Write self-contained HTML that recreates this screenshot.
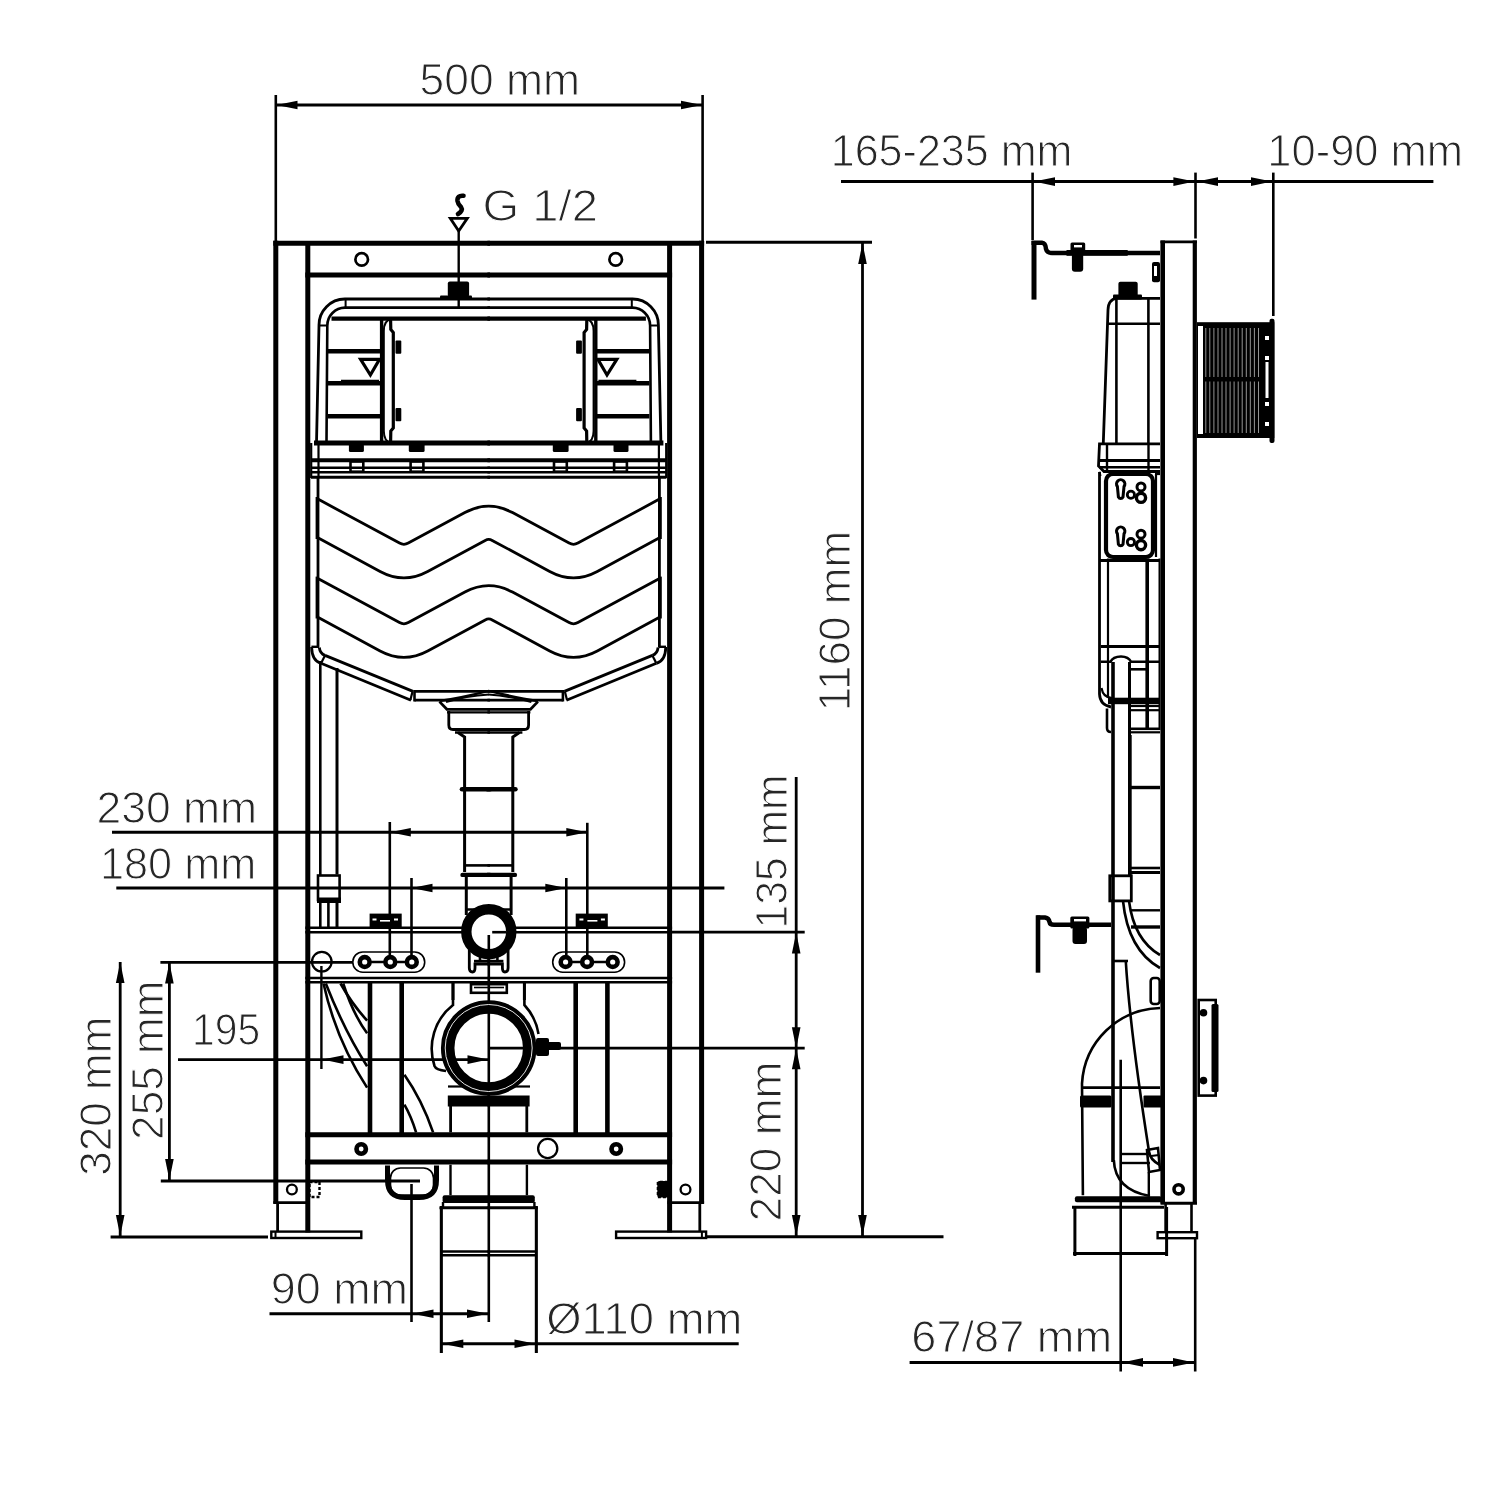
<!DOCTYPE html>
<html><head><meta charset="utf-8"><style>
html,body{margin:0;padding:0;background:#fff;width:1504px;height:1504px;overflow:hidden}
svg{display:block}
text{font-family:"Liberation Sans",sans-serif;fill:#262626;stroke:#fff;stroke-width:1.1px;paint-order:normal}
</style></head><body>
<svg width="1504" height="1504" viewBox="0 0 1504 1504" stroke="#000" fill="none" style="will-change:transform">
<line x1="275.8" y1="95.0" x2="275.8" y2="241.0" stroke-width="2.6" stroke-linecap="butt"/>
<line x1="702.6" y1="95.0" x2="702.6" y2="241.0" stroke-width="2.6" stroke-linecap="butt"/>
<line x1="275.8" y1="105.0" x2="702.6" y2="105.0" stroke-width="3" stroke-linecap="butt"/>
<polygon points="276.5,105.0 297.5,100.7 297.5,109.3" stroke="none" fill="#000"/>
<polygon points="702.0,105.0 681.0,109.3 681.0,100.7" stroke="none" fill="#000"/>
<text x="419.5" y="95" font-size="44" textLength="160.5" lengthAdjust="spacingAndGlyphs">500 mm</text>
<line x1="706.0" y1="242.3" x2="872.0" y2="242.3" stroke-width="3" stroke-linecap="butt"/>
<line x1="862.5" y1="243.0" x2="862.5" y2="1236.0" stroke-width="2.8" stroke-linecap="butt"/>
<polygon points="862.5,243.0 866.8,264.0 858.2,264.0" stroke="none" fill="#000"/>
<polygon points="862.5,1236.0 858.2,1215.0 866.8,1215.0" stroke="none" fill="#000"/>
<text transform="translate(849.9,708.8) rotate(-90)" x="-2.5" y="0" font-size="44" textLength="180.5" lengthAdjust="spacingAndGlyphs">1160 mm</text>
<line x1="707.0" y1="1236.8" x2="943.5" y2="1236.8" stroke-width="3" stroke-linecap="butt"/>
<line x1="796.2" y1="777.0" x2="796.2" y2="1236.0" stroke-width="2.8" stroke-linecap="butt"/>
<polygon points="796.2,932.5 800.5,953.5 791.9,953.5" stroke="none" fill="#000"/>
<polygon points="796.2,1048.2 791.9,1027.2 800.5,1027.2" stroke="none" fill="#000"/>
<polygon points="796.2,1048.2 800.5,1069.2 791.9,1069.2" stroke="none" fill="#000"/>
<polygon points="796.2,1236.0 791.9,1215.0 800.5,1215.0" stroke="none" fill="#000"/>
<line x1="672.0" y1="932.2" x2="804.7" y2="932.2" stroke-width="2.8" stroke-linecap="butt"/>
<line x1="490.0" y1="1048.2" x2="804.7" y2="1048.2" stroke-width="2.8" stroke-linecap="butt"/>
<text transform="translate(786.6,926) rotate(-90)" x="-2.5" y="0" font-size="44" textLength="154.0" lengthAdjust="spacingAndGlyphs">135 mm</text>
<text transform="translate(781.2,1218.9) rotate(-90)" x="-2.5" y="0" font-size="44" textLength="159.9" lengthAdjust="spacingAndGlyphs">220 mm</text>
<line x1="112.0" y1="832.2" x2="587.3" y2="832.2" stroke-width="3" stroke-linecap="butt"/>
<polygon points="389.8,832.2 410.8,827.9 410.8,836.5" stroke="none" fill="#000"/>
<polygon points="587.3,832.2 566.3,836.5 566.3,827.9" stroke="none" fill="#000"/>
<line x1="389.8" y1="822.0" x2="389.8" y2="955.0" stroke-width="2.6" stroke-linecap="butt"/>
<line x1="587.3" y1="822.8" x2="587.3" y2="955.5" stroke-width="2.6" stroke-linecap="butt"/>
<text x="96.5" y="822.7" font-size="44" textLength="160.6" lengthAdjust="spacingAndGlyphs">230 mm</text>
<line x1="116.3" y1="888.0" x2="724.4" y2="888.0" stroke-width="3" stroke-linecap="butt"/>
<polygon points="411.5,888.0 432.5,883.7 432.5,892.3" stroke="none" fill="#000"/>
<polygon points="566.3,888.0 545.3,892.3 545.3,883.7" stroke="none" fill="#000"/>
<line x1="411.5" y1="878.0" x2="411.5" y2="955.0" stroke-width="2.6" stroke-linecap="butt"/>
<line x1="566.3" y1="878.0" x2="566.3" y2="955.0" stroke-width="2.6" stroke-linecap="butt"/>
<text x="100.0" y="878.9" font-size="44" textLength="156.2" lengthAdjust="spacingAndGlyphs">180 mm</text>
<line x1="160.4" y1="962.3" x2="352.8" y2="962.3" stroke-width="2.8" stroke-linecap="butt"/>
<line x1="120.2" y1="962.0" x2="120.2" y2="1236.0" stroke-width="2.8" stroke-linecap="butt"/>
<polygon points="120.2,962.0 124.5,983.0 115.9,983.0" stroke="none" fill="#000"/>
<polygon points="120.2,1236.0 115.9,1215.0 124.5,1215.0" stroke="none" fill="#000"/>
<line x1="169.4" y1="962.5" x2="169.4" y2="1180.0" stroke-width="2.8" stroke-linecap="butt"/>
<polygon points="169.4,962.5 173.7,983.5 165.1,983.5" stroke="none" fill="#000"/>
<polygon points="169.4,1180.0 165.1,1159.0 173.7,1159.0" stroke="none" fill="#000"/>
<line x1="160.8" y1="1181.0" x2="420.0" y2="1181.0" stroke-width="2.8" stroke-linecap="butt"/>
<line x1="110.6" y1="1237.0" x2="268.0" y2="1237.0" stroke-width="2.8" stroke-linecap="butt"/>
<text transform="translate(111.3,1173.3) rotate(-90)" x="-2.5" y="0" font-size="44" textLength="159.4" lengthAdjust="spacingAndGlyphs">320 mm</text>
<text transform="translate(162.5,1137.4) rotate(-90)" x="-2.5" y="0" font-size="44" textLength="159.4" lengthAdjust="spacingAndGlyphs">255 mm</text>
<line x1="178.0" y1="1059.6" x2="488.5" y2="1059.6" stroke-width="2.8" stroke-linecap="butt"/>
<polygon points="322.5,1059.6 343.5,1055.3 343.5,1063.9" stroke="none" fill="#000"/>
<polygon points="488.5,1059.6 467.5,1063.9 467.5,1055.3" stroke="none" fill="#000"/>
<line x1="321.4" y1="966.0" x2="321.4" y2="1069.0" stroke-width="2.4" stroke-linecap="butt"/>
<text x="192.0" y="1045.3" font-size="44" textLength="68.1" lengthAdjust="spacingAndGlyphs">195</text>
<line x1="411.5" y1="1184.0" x2="411.5" y2="1322.0" stroke-width="2.6" stroke-linecap="butt"/>
<line x1="269.5" y1="1313.8" x2="488.8" y2="1313.8" stroke-width="3" stroke-linecap="butt"/>
<polygon points="412.5,1313.8 433.5,1309.5 433.5,1318.1" stroke="none" fill="#000"/>
<polygon points="488.0,1313.8 467.0,1318.1 467.0,1309.5" stroke="none" fill="#000"/>
<text x="270.7" y="1304.3" font-size="44" textLength="137.3" lengthAdjust="spacingAndGlyphs">90 mm</text>
<line x1="488.8" y1="935.0" x2="488.8" y2="1322.0" stroke-width="2.6" stroke-linecap="butt"/>
<line x1="441.4" y1="1206.0" x2="441.4" y2="1353.0" stroke-width="2.6" stroke-linecap="butt"/>
<line x1="536.4" y1="1206.0" x2="536.4" y2="1353.0" stroke-width="2.6" stroke-linecap="butt"/>
<line x1="441.5" y1="1343.8" x2="738.7" y2="1343.8" stroke-width="3" stroke-linecap="butt"/>
<polygon points="442.3,1343.8 463.3,1339.5 463.3,1348.1" stroke="none" fill="#000"/>
<polygon points="535.5,1343.8 514.5,1348.1 514.5,1339.5" stroke="none" fill="#000"/>
<text x="546.3" y="1334.2" font-size="44" textLength="196.0" lengthAdjust="spacingAndGlyphs">Ø110 mm</text>
<text x="482.5" y="221" font-size="44" textLength="115.5" lengthAdjust="spacingAndGlyphs">G 1/2</text>
<line x1="275.8" y1="240.8" x2="275.8" y2="1203.5" stroke-width="5" stroke-linecap="butt"/>
<line x1="307.8" y1="241.0" x2="307.8" y2="1232.5" stroke-width="5" stroke-linecap="butt"/>
<line x1="273.3" y1="243.3" x2="490.0" y2="243.3" stroke-width="5" stroke-linecap="butt"/>
<line x1="305.3" y1="275.0" x2="490.0" y2="275.0" stroke-width="5" stroke-linecap="butt"/>
<circle cx="361.7" cy="259.4" r="6.3" stroke-width="2.7" fill="none"/>
<line x1="305.3" y1="927.8" x2="490.0" y2="927.8" stroke-width="2.6" stroke-linecap="butt"/>
<line x1="305.3" y1="932.2" x2="490.0" y2="932.2" stroke-width="2.6" stroke-linecap="butt"/>
<line x1="305.3" y1="978.0" x2="490.0" y2="978.0" stroke-width="2.6" stroke-linecap="butt"/>
<line x1="305.3" y1="982.3" x2="490.0" y2="982.3" stroke-width="2.6" stroke-linecap="butt"/>
<line x1="305.3" y1="1134.8" x2="490.0" y2="1134.8" stroke-width="5" stroke-linecap="butt"/>
<line x1="305.3" y1="1162.1" x2="490.0" y2="1162.1" stroke-width="5" stroke-linecap="butt"/>
<circle cx="361.2" cy="1149.0" r="4.7" stroke-width="4.6" fill="none"/>
<line x1="273.3" y1="1202.7" x2="310.0" y2="1202.7" stroke-width="2.8" stroke-linecap="butt"/>
<line x1="277.6" y1="1203.0" x2="277.6" y2="1232.0" stroke-width="2.8" stroke-linecap="butt"/>
<rect x="271.3" y="1231.6" width="90.0" height="6.4" rx="0" stroke-width="2.4" fill="none"/>
<line x1="275.5" y1="1231.6" x2="275.5" y2="1238.0" stroke-width="2" stroke-linecap="butt"/>
<circle cx="291.9" cy="1189.5" r="4.9" stroke-width="2.3" fill="none"/>
<line x1="370.0" y1="982.0" x2="370.0" y2="1134.0" stroke-width="4.6" stroke-linecap="butt"/>
<line x1="401.7" y1="982.0" x2="401.7" y2="1134.0" stroke-width="4.6" stroke-linecap="butt"/>
<line x1="453.0" y1="982.0" x2="453.0" y2="1000.0" stroke-width="3" stroke-linecap="butt"/>
<g transform="translate(977.4,0) scale(-1,1)">
<line x1="275.8" y1="240.8" x2="275.8" y2="1203.5" stroke-width="5" stroke-linecap="butt"/>
<line x1="307.8" y1="241.0" x2="307.8" y2="1232.5" stroke-width="5" stroke-linecap="butt"/>
<line x1="273.3" y1="243.3" x2="490.0" y2="243.3" stroke-width="5" stroke-linecap="butt"/>
<line x1="305.3" y1="275.0" x2="490.0" y2="275.0" stroke-width="5" stroke-linecap="butt"/>
<circle cx="361.7" cy="259.4" r="6.3" stroke-width="2.7" fill="none"/>
<line x1="305.3" y1="927.8" x2="490.0" y2="927.8" stroke-width="2.6" stroke-linecap="butt"/>
<line x1="305.3" y1="932.2" x2="490.0" y2="932.2" stroke-width="2.6" stroke-linecap="butt"/>
<line x1="305.3" y1="978.0" x2="490.0" y2="978.0" stroke-width="2.6" stroke-linecap="butt"/>
<line x1="305.3" y1="982.3" x2="490.0" y2="982.3" stroke-width="2.6" stroke-linecap="butt"/>
<line x1="305.3" y1="1134.8" x2="490.0" y2="1134.8" stroke-width="5" stroke-linecap="butt"/>
<line x1="305.3" y1="1162.1" x2="490.0" y2="1162.1" stroke-width="5" stroke-linecap="butt"/>
<circle cx="361.2" cy="1149.0" r="4.7" stroke-width="4.6" fill="none"/>
<line x1="273.3" y1="1202.7" x2="310.0" y2="1202.7" stroke-width="2.8" stroke-linecap="butt"/>
<line x1="277.6" y1="1203.0" x2="277.6" y2="1232.0" stroke-width="2.8" stroke-linecap="butt"/>
<rect x="271.3" y="1231.6" width="90.0" height="6.4" rx="0" stroke-width="2.4" fill="none"/>
<line x1="275.5" y1="1231.6" x2="275.5" y2="1238.0" stroke-width="2" stroke-linecap="butt"/>
<circle cx="291.9" cy="1189.5" r="4.9" stroke-width="2.3" fill="none"/>
<line x1="370.0" y1="982.0" x2="370.0" y2="1134.0" stroke-width="4.6" stroke-linecap="butt"/>
<line x1="401.7" y1="982.0" x2="401.7" y2="1134.0" stroke-width="4.6" stroke-linecap="butt"/>
<line x1="453.0" y1="982.0" x2="453.0" y2="1000.0" stroke-width="3" stroke-linecap="butt"/>
</g>
<circle cx="547.7" cy="1148.5" r="9.6" stroke-width="2.3" fill="none"/>
<path d="M490,299 L344.8,299 A26,26 0 0 0 319,325 L316.5,443" stroke-width="2.8" fill="none" />
<path d="M490,307.6 L345,307.6 A18,18 0 0 0 327.3,325.7 L326.5,443" stroke-width="2.6" fill="none" />
<line x1="345.6" y1="299.0" x2="345.6" y2="307.6" stroke-width="2" stroke-linecap="butt"/>
<line x1="319.0" y1="325.5" x2="327.3" y2="325.5" stroke-width="2" stroke-linecap="butt"/>
<line x1="331.5" y1="318.6" x2="490.0" y2="318.6" stroke-width="4.2" stroke-linecap="butt"/>
<line x1="328.0" y1="351.3" x2="380.5" y2="351.3" stroke-width="4.6" stroke-linecap="butt"/>
<line x1="328.0" y1="383.3" x2="380.5" y2="383.3" stroke-width="4.6" stroke-linecap="butt"/>
<line x1="328.0" y1="416.2" x2="380.5" y2="416.2" stroke-width="4.6" stroke-linecap="butt"/>
<line x1="341.0" y1="381.2" x2="379.0" y2="381.2" stroke-width="3" stroke-linecap="butt"/>
<path d="M360.6,359.3 L379.5,359.3 L370.4,375 Z" stroke-width="3.2" fill="none" />
<line x1="381.6" y1="320.0" x2="381.6" y2="443.0" stroke-width="3.4" stroke-linecap="butt"/>
<path d="M391,319.5 Q384,320 383.8,331 L383.8,431 Q384,442 391,442.5" stroke-width="2.0" fill="none" />
<path d="M390.6,320 L390.8,329.5 L393.3,332.5 L393.3,428 L390.8,431 L390.6,442" stroke-width="3.2" fill="none" />
<rect x="395.5" y="340.5" width="5.8" height="13.3" rx="1" stroke="none" fill="#000"/>
<rect x="395.5" y="407.9" width="5.8" height="13.3" rx="1" stroke="none" fill="#000"/>
<line x1="314.0" y1="443.0" x2="490.0" y2="443.0" stroke-width="5" stroke-linecap="butt"/>
<rect x="348.9" y="444.0" width="15.0" height="7.9" rx="1.5" stroke="none" fill="#000"/>
<rect x="408.8" y="444.0" width="15.8" height="7.9" rx="1.5" stroke="none" fill="#000"/>
<line x1="311.0" y1="460.2" x2="490.0" y2="460.2" stroke-width="4" stroke-linecap="butt"/>
<rect x="350.5" y="461.5" width="12.8" height="10.2" rx="0" stroke-width="2.6" fill="none"/>
<rect x="410.6" y="461.5" width="12.8" height="10.2" rx="0" stroke-width="2.6" fill="none"/>
<line x1="311.0" y1="467.7" x2="490.0" y2="467.7" stroke-width="2.4" stroke-linecap="butt"/>
<line x1="311.0" y1="472.3" x2="490.0" y2="472.3" stroke-width="2.4" stroke-linecap="butt"/>
<line x1="311.0" y1="477.2" x2="490.0" y2="477.2" stroke-width="3" stroke-linecap="butt"/>
<line x1="311.2" y1="443.0" x2="311.2" y2="478.0" stroke-width="2.2" stroke-linecap="butt"/>
<line x1="318.5" y1="443.0" x2="318.5" y2="478.0" stroke-width="2.2" stroke-linecap="butt"/>
<line x1="318.0" y1="478.0" x2="318.0" y2="647.0" stroke-width="2.8" stroke-linecap="butt"/>
<path d="M311.4,646.8 L319,646.8" stroke-width="2.4" fill="none" />
<path d="M311.6,647 Q312,661 321,663.3" stroke-width="2.8" fill="none" />
<path d="M319.3,647.5 Q320,653.5 325,655.4" stroke-width="2.8" fill="none" />
<line x1="325.0" y1="655.4" x2="413.0" y2="691.4" stroke-width="2.8" stroke-linecap="butt"/>
<line x1="321.0" y1="663.3" x2="411.0" y2="700.3" stroke-width="2.8" stroke-linecap="butt"/>
<line x1="325.0" y1="655.4" x2="321.2" y2="663.0" stroke-width="2.2" stroke-linecap="butt"/>
<line x1="412.6" y1="691.2" x2="410.4" y2="700.0" stroke-width="2.2" stroke-linecap="butt"/>
<line x1="414.5" y1="690.0" x2="414.5" y2="701.5" stroke-width="2.6" stroke-linecap="butt"/>
<line x1="414.5" y1="691.4" x2="490.0" y2="691.4" stroke-width="2.8" stroke-linecap="butt"/>
<line x1="414.5" y1="700.2" x2="490.0" y2="700.2" stroke-width="2.8" stroke-linecap="butt"/>
<path d="M439.5,701 Q460,698 489,690.9" stroke-width="2.5" fill="none" />
<path d="M446,702 Q466,696 489,694.5" stroke-width="2.2" fill="none" />
<line x1="439.5" y1="701.6" x2="447.6" y2="710.0" stroke-width="2.8" stroke-linecap="butt"/>
<line x1="447.0" y1="709.4" x2="490.0" y2="709.4" stroke-width="2.8" stroke-linecap="butt"/>
<line x1="447.0" y1="712.4" x2="490.0" y2="712.4" stroke-width="2.4" stroke-linecap="butt"/>
<path d="M448.8,711 L448.8,725 Q448.8,729.5 453,729.5 L490,729.5" stroke-width="2.8" fill="none" />
<line x1="455.0" y1="732.5" x2="490.0" y2="732.5" stroke-width="2.4" stroke-linecap="butt"/>
<path d="M458,732.5 L464.6,737 L464.6,872" stroke-width="3" fill="none" />
<line x1="462.0" y1="789.2" x2="490.0" y2="789.2" stroke-width="4.6" stroke-linecap="round"/>
<line x1="464.2" y1="865.4" x2="490.0" y2="865.4" stroke-width="2.6" stroke-linecap="butt"/>
<line x1="462.5" y1="874.9" x2="490.0" y2="874.9" stroke-width="4.4" stroke-linecap="round"/>
<line x1="466.3" y1="876.0" x2="466.3" y2="915.0" stroke-width="3" stroke-linecap="butt"/>
<g transform="translate(977.4,0) scale(-1,1)">
<path d="M490,299 L344.8,299 A26,26 0 0 0 319,325 L316.5,443" stroke-width="2.8" fill="none" />
<path d="M490,307.6 L345,307.6 A18,18 0 0 0 327.3,325.7 L326.5,443" stroke-width="2.6" fill="none" />
<line x1="345.6" y1="299.0" x2="345.6" y2="307.6" stroke-width="2" stroke-linecap="butt"/>
<line x1="319.0" y1="325.5" x2="327.3" y2="325.5" stroke-width="2" stroke-linecap="butt"/>
<line x1="331.5" y1="318.6" x2="490.0" y2="318.6" stroke-width="4.2" stroke-linecap="butt"/>
<line x1="328.0" y1="351.3" x2="380.5" y2="351.3" stroke-width="4.6" stroke-linecap="butt"/>
<line x1="328.0" y1="383.3" x2="380.5" y2="383.3" stroke-width="4.6" stroke-linecap="butt"/>
<line x1="328.0" y1="416.2" x2="380.5" y2="416.2" stroke-width="4.6" stroke-linecap="butt"/>
<line x1="341.0" y1="381.2" x2="379.0" y2="381.2" stroke-width="3" stroke-linecap="butt"/>
<path d="M360.6,359.3 L379.5,359.3 L370.4,375 Z" stroke-width="3.2" fill="none" />
<line x1="381.6" y1="320.0" x2="381.6" y2="443.0" stroke-width="3.4" stroke-linecap="butt"/>
<path d="M391,319.5 Q384,320 383.8,331 L383.8,431 Q384,442 391,442.5" stroke-width="2.0" fill="none" />
<path d="M390.6,320 L390.8,329.5 L393.3,332.5 L393.3,428 L390.8,431 L390.6,442" stroke-width="3.2" fill="none" />
<rect x="395.5" y="340.5" width="5.8" height="13.3" rx="1" stroke="none" fill="#000"/>
<rect x="395.5" y="407.9" width="5.8" height="13.3" rx="1" stroke="none" fill="#000"/>
<line x1="314.0" y1="443.0" x2="490.0" y2="443.0" stroke-width="5" stroke-linecap="butt"/>
<rect x="348.9" y="444.0" width="15.0" height="7.9" rx="1.5" stroke="none" fill="#000"/>
<rect x="408.8" y="444.0" width="15.8" height="7.9" rx="1.5" stroke="none" fill="#000"/>
<line x1="311.0" y1="460.2" x2="490.0" y2="460.2" stroke-width="4" stroke-linecap="butt"/>
<rect x="350.5" y="461.5" width="12.8" height="10.2" rx="0" stroke-width="2.6" fill="none"/>
<rect x="410.6" y="461.5" width="12.8" height="10.2" rx="0" stroke-width="2.6" fill="none"/>
<line x1="311.0" y1="467.7" x2="490.0" y2="467.7" stroke-width="2.4" stroke-linecap="butt"/>
<line x1="311.0" y1="472.3" x2="490.0" y2="472.3" stroke-width="2.4" stroke-linecap="butt"/>
<line x1="311.0" y1="477.2" x2="490.0" y2="477.2" stroke-width="3" stroke-linecap="butt"/>
<line x1="311.2" y1="443.0" x2="311.2" y2="478.0" stroke-width="2.2" stroke-linecap="butt"/>
<line x1="318.5" y1="443.0" x2="318.5" y2="478.0" stroke-width="2.2" stroke-linecap="butt"/>
<line x1="318.0" y1="478.0" x2="318.0" y2="647.0" stroke-width="2.8" stroke-linecap="butt"/>
<path d="M311.4,646.8 L319,646.8" stroke-width="2.4" fill="none" />
<path d="M311.6,647 Q312,661 321,663.3" stroke-width="2.8" fill="none" />
<path d="M319.3,647.5 Q320,653.5 325,655.4" stroke-width="2.8" fill="none" />
<line x1="325.0" y1="655.4" x2="413.0" y2="691.4" stroke-width="2.8" stroke-linecap="butt"/>
<line x1="321.0" y1="663.3" x2="411.0" y2="700.3" stroke-width="2.8" stroke-linecap="butt"/>
<line x1="325.0" y1="655.4" x2="321.2" y2="663.0" stroke-width="2.2" stroke-linecap="butt"/>
<line x1="412.6" y1="691.2" x2="410.4" y2="700.0" stroke-width="2.2" stroke-linecap="butt"/>
<line x1="414.5" y1="690.0" x2="414.5" y2="701.5" stroke-width="2.6" stroke-linecap="butt"/>
<line x1="414.5" y1="691.4" x2="490.0" y2="691.4" stroke-width="2.8" stroke-linecap="butt"/>
<line x1="414.5" y1="700.2" x2="490.0" y2="700.2" stroke-width="2.8" stroke-linecap="butt"/>
<path d="M439.5,701 Q460,698 489,690.9" stroke-width="2.5" fill="none" />
<path d="M446,702 Q466,696 489,694.5" stroke-width="2.2" fill="none" />
<line x1="439.5" y1="701.6" x2="447.6" y2="710.0" stroke-width="2.8" stroke-linecap="butt"/>
<line x1="447.0" y1="709.4" x2="490.0" y2="709.4" stroke-width="2.8" stroke-linecap="butt"/>
<line x1="447.0" y1="712.4" x2="490.0" y2="712.4" stroke-width="2.4" stroke-linecap="butt"/>
<path d="M448.8,711 L448.8,725 Q448.8,729.5 453,729.5 L490,729.5" stroke-width="2.8" fill="none" />
<line x1="455.0" y1="732.5" x2="490.0" y2="732.5" stroke-width="2.4" stroke-linecap="butt"/>
<path d="M458,732.5 L464.6,737 L464.6,872" stroke-width="3" fill="none" />
<line x1="462.0" y1="789.2" x2="490.0" y2="789.2" stroke-width="4.6" stroke-linecap="round"/>
<line x1="464.2" y1="865.4" x2="490.0" y2="865.4" stroke-width="2.6" stroke-linecap="butt"/>
<line x1="462.5" y1="874.9" x2="490.0" y2="874.9" stroke-width="4.4" stroke-linecap="round"/>
<line x1="466.3" y1="876.0" x2="466.3" y2="915.0" stroke-width="3" stroke-linecap="butt"/>
</g>
<path d="M317.9,499.1 L399.5,543.1 Q403.9,545.5 408.3,543.1 L464.9,512.6 Q488.7,499.8 512.5,512.6 L569.1,543.1 Q573.5,545.5 577.9,543.1 L659.5,499.1" stroke-width="2.8" fill="none" />
<path d="M317.9,537.8 L380.1,571.4 Q403.9,584.2 427.7,571.4 L485.2,540.4 Q488.7,538.5 492.2,540.4 L549.7,571.4 Q573.5,584.2 597.3,571.4 L659.5,537.8" stroke-width="2.8" fill="none" />
<path d="M317.9,578.6 L399.5,622.6 Q403.9,625.0 408.3,622.6 L464.9,592.1 Q488.7,579.3 512.5,592.1 L569.1,622.6 Q573.5,625.0 577.9,622.6 L659.5,578.6" stroke-width="2.8" fill="none" />
<path d="M317.9,617.3 L380.1,650.9 Q403.9,663.7 427.7,650.9 L485.2,619.9 Q488.7,618.0 492.2,619.9 L549.7,650.9 Q573.5,663.7 597.3,650.9 L659.5,617.3" stroke-width="2.8" fill="none" />
<line x1="317.2" y1="497.0" x2="317.2" y2="539.0" stroke-width="3.2" stroke-linecap="butt"/>
<line x1="660.2" y1="497.0" x2="660.2" y2="539.0" stroke-width="3.2" stroke-linecap="butt"/>
<line x1="317.2" y1="576.6" x2="317.2" y2="618.5" stroke-width="3.2" stroke-linecap="butt"/>
<line x1="660.2" y1="576.6" x2="660.2" y2="618.5" stroke-width="3.2" stroke-linecap="butt"/>
<rect x="352.8" y="952.0" width="71.9" height="20.2" rx="10" stroke-width="1.6" fill="none"/>
<line x1="369.0" y1="962.0" x2="407.0" y2="962.0" stroke-width="2.6" stroke-linecap="butt"/>
<circle cx="364.7" cy="962.0" r="4.9" stroke-width="4.6" fill="#fff"/>
<circle cx="390.3" cy="962.0" r="4.9" stroke-width="4.6" fill="#fff"/>
<circle cx="411.8" cy="962.0" r="4.9" stroke-width="4.6" fill="#fff"/>
<rect x="369.6" y="913.6" width="32.1" height="15.3" rx="0" stroke="none" fill="#000"/>
<rect x="372.5" y="918.5" width="4" height="2" fill="#fff" stroke="none"/><rect x="380" y="920" width="10" height="1.6" fill="#fff" stroke="none"/><rect x="394" y="918.5" width="4" height="2" fill="#fff" stroke="none"/>
<path d="M469.3,950 L469.3,968 Q469.3,972 472.5,972 Q475,972 475,968 L475,964 L490,964" stroke-width="2.8" fill="none" />
<line x1="474.0" y1="961.2" x2="490.0" y2="961.2" stroke-width="2.8" stroke-linecap="butt"/>
<line x1="480.0" y1="955.0" x2="480.0" y2="961.0" stroke-width="2.6" stroke-linecap="butt"/>
<rect x="447.8" y="1095.5" width="42.2" height="11.0" rx="0" stroke="none" fill="#000"/>
<line x1="450.6" y1="1106.0" x2="450.6" y2="1132.4" stroke-width="2.8" stroke-linecap="butt"/>
<line x1="450.5" y1="1164.7" x2="450.5" y2="1195.2" stroke-width="2.4" stroke-linecap="butt"/>
<rect x="442.6" y="1195.2" width="47.4" height="7.9" rx="2" stroke="none" fill="#000"/>
<line x1="439.5" y1="1207.7" x2="490.0" y2="1207.7" stroke-width="3" stroke-linecap="butt"/>
<line x1="443.0" y1="1202.0" x2="443.0" y2="1207.0" stroke-width="2.4" stroke-linecap="butt"/>
<line x1="441.2" y1="1207.0" x2="441.2" y2="1353.0" stroke-width="2.8" stroke-linecap="butt"/>
<line x1="441.0" y1="1251.5" x2="490.0" y2="1251.5" stroke-width="2.4" stroke-linecap="butt"/>
<line x1="441.0" y1="1255.3" x2="490.0" y2="1255.3" stroke-width="2.4" stroke-linecap="butt"/>
<rect x="309.5" y="1182" width="10" height="15" fill="none" stroke-width="2.4" stroke-dasharray="3 2"/>
<g transform="translate(977.4,0) scale(-1,1)">
<rect x="352.8" y="952.0" width="71.9" height="20.2" rx="10" stroke-width="1.6" fill="none"/>
<line x1="369.0" y1="962.0" x2="407.0" y2="962.0" stroke-width="2.6" stroke-linecap="butt"/>
<circle cx="364.7" cy="962.0" r="4.9" stroke-width="4.6" fill="#fff"/>
<circle cx="390.3" cy="962.0" r="4.9" stroke-width="4.6" fill="#fff"/>
<circle cx="411.8" cy="962.0" r="4.9" stroke-width="4.6" fill="#fff"/>
<rect x="369.6" y="913.6" width="32.1" height="15.3" rx="0" stroke="none" fill="#000"/>
<rect x="372.5" y="918.5" width="4" height="2" fill="#fff" stroke="none"/><rect x="380" y="920" width="10" height="1.6" fill="#fff" stroke="none"/><rect x="394" y="918.5" width="4" height="2" fill="#fff" stroke="none"/>
<path d="M469.3,950 L469.3,968 Q469.3,972 472.5,972 Q475,972 475,968 L475,964 L490,964" stroke-width="2.8" fill="none" />
<line x1="474.0" y1="961.2" x2="490.0" y2="961.2" stroke-width="2.8" stroke-linecap="butt"/>
<line x1="480.0" y1="955.0" x2="480.0" y2="961.0" stroke-width="2.6" stroke-linecap="butt"/>
<rect x="447.8" y="1095.5" width="42.2" height="11.0" rx="0" stroke="none" fill="#000"/>
<line x1="450.6" y1="1106.0" x2="450.6" y2="1132.4" stroke-width="2.8" stroke-linecap="butt"/>
<line x1="450.5" y1="1164.7" x2="450.5" y2="1195.2" stroke-width="2.4" stroke-linecap="butt"/>
<rect x="442.6" y="1195.2" width="47.4" height="7.9" rx="2" stroke="none" fill="#000"/>
<line x1="439.5" y1="1207.7" x2="490.0" y2="1207.7" stroke-width="3" stroke-linecap="butt"/>
<line x1="443.0" y1="1202.0" x2="443.0" y2="1207.0" stroke-width="2.4" stroke-linecap="butt"/>
<line x1="441.2" y1="1207.0" x2="441.2" y2="1353.0" stroke-width="2.8" stroke-linecap="butt"/>
<line x1="441.0" y1="1251.5" x2="490.0" y2="1251.5" stroke-width="2.4" stroke-linecap="butt"/>
<line x1="441.0" y1="1255.3" x2="490.0" y2="1255.3" stroke-width="2.4" stroke-linecap="butt"/>
<rect x="309.5" y="1182" width="10" height="15" fill="none" stroke-width="2.4" stroke-dasharray="3 2"/>
</g>
<line x1="320.3" y1="661.0" x2="320.3" y2="875.0" stroke-width="2.6" stroke-linecap="butt"/>
<line x1="337.0" y1="668.0" x2="337.0" y2="874.5" stroke-width="3" stroke-linecap="butt"/>
<rect x="318.0" y="875.5" width="21.6" height="24.5" rx="0" stroke-width="2.6" fill="none"/>
<rect x="317.0" y="897.5" width="24.0" height="5.5" rx="0" stroke="none" fill="#000"/>
<line x1="320.3" y1="903.0" x2="320.3" y2="927.0" stroke-width="2.6" stroke-linecap="butt"/>
<line x1="328.4" y1="903.0" x2="328.4" y2="927.0" stroke-width="2.6" stroke-linecap="butt"/>
<line x1="337.0" y1="903.0" x2="337.0" y2="927.0" stroke-width="3" stroke-linecap="butt"/>
<path d="M323.5,983.5 Q336,1040 367.1,1087.6" stroke-width="2.6" fill="none" />
<path d="M325.8,983.5 Q344,1030 367.1,1066.3" stroke-width="2.6" fill="none" />
<path d="M340.5,983.5 Q352,1004 367.1,1020.6" stroke-width="2.6" fill="none" />
<path d="M343.2,983.5 Q353,1014 367.1,1033.3" stroke-width="2.6" fill="none" />
<path d="M404.4,1074.8 Q422,1100 433.1,1132.3" stroke-width="2.6" fill="none" />
<path d="M404.4,1104.6 Q411,1116 416.1,1132.3" stroke-width="2.6" fill="none" />
<circle cx="321.8" cy="961.7" r="9.8" stroke-width="2.2" fill="none"/>
<circle cx="488.8" cy="931.7" r="22.5" stroke-width="10.4" fill="#fff"/>
<line x1="492.2" y1="932.2" x2="506.0" y2="932.2" stroke-width="2.6" stroke-linecap="butt"/>
<line x1="488.8" y1="935.0" x2="488.8" y2="962.0" stroke-width="2.6" stroke-linecap="butt"/>
<line x1="466.0" y1="909.5" x2="511.5" y2="909.5" stroke-width="2.6" stroke-linecap="butt"/>
<circle cx="488.7" cy="1048.0" r="41.0" stroke-width="13.5" fill="none"/>
<circle cx="488.7" cy="1048" r="43.5" stroke="#fff" stroke-width="0.9" fill="none"/>
<path d="M453,983 L453,1005 A55.5,55.5 0 0 0 434.5,1066 Q436,1070 446,1071" stroke-width="2.6" fill="none" />
<path d="M524.4,983 L524.4,1005 A55.5,55.5 0 0 1 538.5,1034" stroke-width="2.6" fill="none" />
<rect x="471.0" y="984.2" width="35.8" height="8.6" rx="0" stroke-width="2.6" fill="none"/>
<line x1="474.0" y1="987.5" x2="504.0" y2="987.5" stroke-width="1.6" stroke-linecap="butt"/>
<line x1="448.0" y1="1086.5" x2="463.0" y2="1086.5" stroke-width="2.2" stroke-linecap="butt"/>
<line x1="514.0" y1="1086.5" x2="530.0" y2="1086.5" stroke-width="2.2" stroke-linecap="butt"/>
<rect x="536.0" y="1038.0" width="13.0" height="18.0" rx="2" stroke="none" fill="#000"/>
<rect x="547.0" y="1042.0" width="14.0" height="8.0" rx="2" stroke="none" fill="#000"/>
<path d="M387.5,1165.5 L387.5,1180 Q387.5,1197.5 405,1197.5 L419,1197.5 Q436.5,1197.5 436.5,1180 L436.5,1165.5" stroke-width="5" fill="none" />
<rect x="390.5" y="1168.0" width="43.0" height="27.0" rx="10" stroke-width="1.6" fill="none"/>
<rect x="657.3" y="1181.0" width="13.7" height="16.5" rx="2" stroke="none" fill="#000"/>
<line x1="841.0" y1="181.6" x2="1433.4" y2="181.6" stroke-width="3" stroke-linecap="butt"/>
<line x1="1032.6" y1="172.6" x2="1032.6" y2="240.0" stroke-width="2.6" stroke-linecap="butt"/>
<line x1="1195.5" y1="172.6" x2="1195.5" y2="238.5" stroke-width="2.6" stroke-linecap="butt"/>
<line x1="1273.3" y1="172.6" x2="1273.3" y2="316.0" stroke-width="2.6" stroke-linecap="butt"/>
<polygon points="1034.0,181.6 1055.0,177.3 1055.0,185.9" stroke="none" fill="#000"/>
<polygon points="1194.4,181.6 1173.4,185.9 1173.4,177.3" stroke="none" fill="#000"/>
<polygon points="1197.0,181.6 1218.0,177.3 1218.0,185.9" stroke="none" fill="#000"/>
<polygon points="1272.0,181.6 1251.0,185.9 1251.0,177.3" stroke="none" fill="#000"/>
<text x="830.7" y="166" font-size="44" textLength="241.8" lengthAdjust="spacingAndGlyphs">165-235 mm</text>
<text x="1267.3" y="166" font-size="44" textLength="195.8" lengthAdjust="spacingAndGlyphs">10-90 mm</text>
<line x1="1120.7" y1="1059.7" x2="1120.7" y2="1371.5" stroke-width="2.6" stroke-linecap="butt"/>
<line x1="1195.2" y1="1238.0" x2="1195.2" y2="1371.5" stroke-width="2.6" stroke-linecap="butt"/>
<line x1="909.6" y1="1362.4" x2="1194.7" y2="1362.4" stroke-width="3" stroke-linecap="butt"/>
<polygon points="1122.0,1362.4 1143.0,1358.1 1143.0,1366.7" stroke="none" fill="#000"/>
<polygon points="1194.0,1362.4 1173.0,1366.7 1173.0,1358.1" stroke="none" fill="#000"/>
<text x="911.3" y="1352.3" font-size="44" textLength="200.8" lengthAdjust="spacingAndGlyphs">67/87 mm</text>
<line x1="1162.7" y1="240.5" x2="1162.7" y2="1203.5" stroke-width="4.6" stroke-linecap="butt"/>
<line x1="1194.8" y1="240.5" x2="1194.8" y2="1203.5" stroke-width="4.2" stroke-linecap="butt"/>
<line x1="1160.5" y1="241.8" x2="1197.0" y2="241.8" stroke-width="2.8" stroke-linecap="butt"/>
<line x1="1160.5" y1="1203.3" x2="1197.0" y2="1203.3" stroke-width="3" stroke-linecap="butt"/>
<line x1="1165.6" y1="1203.0" x2="1165.6" y2="1232.0" stroke-width="2.6" stroke-linecap="butt"/>
<line x1="1191.5" y1="1203.0" x2="1191.5" y2="1232.0" stroke-width="2.6" stroke-linecap="butt"/>
<rect x="1157.6" y="1232.2" width="39.4" height="6.0" rx="0" stroke-width="2.4" fill="none"/>
<circle cx="1178.6" cy="1189.3" r="4.6" stroke-width="3.6" fill="none"/>
<line x1="1034.0" y1="241.0" x2="1034.0" y2="299.6" stroke-width="5" stroke-linecap="butt"/>
<path d="M1031.5,242.8 L1042,242.8 Q1045.5,243 1046,249 Q1047,253 1052,253 L1160,253" stroke-width="4.5" fill="none" />
<rect x="1066.5" y="250.0" width="61.2" height="5.8" rx="0" stroke="none" fill="#000"/>
<rect x="1070.5" y="242.4" width="14.7" height="10.6" rx="1.5" stroke="none" fill="#000"/>
<rect x="1071.9" y="252.0" width="11.3" height="19.7" rx="3" stroke="none" fill="#000"/>
<rect x="1074" y="245" width="8" height="2.4" fill="#fff" stroke="none"/>
<rect x="1152.0" y="262.0" width="8.0" height="20.3" rx="2" stroke="none" fill="#000"/>
<rect x="1154" y="266" width="3" height="10" fill="#fff" stroke="none"/>
<line x1="1038.0" y1="915.3" x2="1038.0" y2="972.7" stroke-width="4.6" stroke-linecap="butt"/>
<path d="M1036.5,917.5 L1045,917.5 Q1049,918 1049.5,922 Q1050,924.8 1054,924.8 L1111,924.8" stroke-width="4.5" fill="none" />
<rect x="1070.3" y="916.4" width="19.1" height="12.1" rx="1.5" stroke="none" fill="#000"/>
<rect x="1072.5" y="927.0" width="14.5" height="17.0" rx="3" stroke="none" fill="#000"/>
<rect x="1074" y="919" width="12" height="2.4" fill="#fff" stroke="none"/>
<rect x="1118.4" y="281.7" width="19.3" height="15.3" rx="2" stroke="none" fill="#000"/>
<rect x="1113.0" y="294.5" width="29.0" height="5.0" rx="1" stroke="none" fill="#000"/>
<path d="M1160,298.3 L1117,298.3 Q1108.3,299 1108,310 L1103.3,443" stroke-width="2.8" fill="none" />
<line x1="1116.4" y1="299.0" x2="1116.4" y2="443.0" stroke-width="2.6" stroke-linecap="butt"/>
<line x1="1148.4" y1="299.0" x2="1148.4" y2="443.0" stroke-width="2.6" stroke-linecap="butt"/>
<line x1="1107.0" y1="323.8" x2="1160.0" y2="323.8" stroke-width="2.6" stroke-linecap="butt"/>
<path d="M1160,443.9 L1099.5,443.9 L1098.5,466 L1104,471.5 L1160,471.5" stroke-width="2.8" fill="none" />
<line x1="1099.0" y1="460.5" x2="1160.0" y2="460.5" stroke-width="2.8" stroke-linecap="butt"/>
<line x1="1099.0" y1="467.2" x2="1160.0" y2="467.2" stroke-width="2.6" stroke-linecap="butt"/>
<line x1="1107.0" y1="444.0" x2="1107.0" y2="471.0" stroke-width="2.4" stroke-linecap="butt"/>
<line x1="1148.5" y1="444.0" x2="1148.5" y2="471.0" stroke-width="2.4" stroke-linecap="butt"/>
<rect x="1106.0" y="474.0" width="47.0" height="83.0" rx="7" stroke-width="4.2" fill="none"/>
<g transform="translate(0,0)">
<path d="M1117.4,486.5 A4.2,4.2 0 1 1 1124,486.5 L1123,497 A2.6,2.6 0 0 1 1118.4,497 Z" stroke-width="3" fill="none" />
<circle cx="1130.9" cy="494.8" r="3.6" stroke-width="2.8" fill="none"/>
<circle cx="1141.0" cy="486.9" r="4.0" stroke-width="3.0" fill="none"/>
<circle cx="1141.0" cy="497.8" r="4.6" stroke-width="3.4" fill="none"/>
</g>
<g transform="translate(0,47.3)">
<path d="M1117.4,486.5 A4.2,4.2 0 1 1 1124,486.5 L1123,497 A2.6,2.6 0 0 1 1118.4,497 Z" stroke-width="3" fill="none" />
<circle cx="1130.9" cy="494.8" r="3.6" stroke-width="2.8" fill="none"/>
<circle cx="1141.0" cy="486.9" r="4.0" stroke-width="3.0" fill="none"/>
<circle cx="1141.0" cy="497.8" r="4.6" stroke-width="3.4" fill="none"/>
</g>
<line x1="1155.0" y1="474.0" x2="1160.0" y2="474.0" stroke-width="2.2" stroke-linecap="butt"/>
<line x1="1156.0" y1="474.0" x2="1156.0" y2="557.0" stroke-width="2.2" stroke-linecap="butt"/>
<path d="M1099.5,472 L1099.5,694 Q1100,705 1111,707" stroke-width="2.8" fill="none" />
<path d="M1101.5,688 Q1103,697.5 1112,698" stroke-width="2.2" fill="none" />
<line x1="1099.5" y1="471.8" x2="1100.5" y2="476.0" stroke-width="2" stroke-linecap="butt"/>
<line x1="1108.0" y1="558.5" x2="1108.0" y2="698.0" stroke-width="2.2" stroke-linecap="butt"/>
<line x1="1147.2" y1="558.5" x2="1147.2" y2="729.0" stroke-width="3.6" stroke-linecap="butt"/>
<line x1="1159.5" y1="558.5" x2="1159.5" y2="730.0" stroke-width="2" stroke-linecap="butt"/>
<line x1="1100.0" y1="560.5" x2="1160.0" y2="560.5" stroke-width="3" stroke-linecap="butt"/>
<line x1="1101.0" y1="646.5" x2="1160.0" y2="646.5" stroke-width="2.8" stroke-linecap="butt"/>
<path d="M1101,661.8 L1110.5,661.8 Q1113,656.5 1121,656.5 Q1128.5,656.5 1131,661.8 L1160,661.8" stroke-width="2.6" fill="none" />
<line x1="1131.0" y1="669.3" x2="1147.0" y2="669.3" stroke-width="2.6" stroke-linecap="butt"/>
<rect x="1108.0" y="697.7" width="52.0" height="6.5" rx="0" stroke="none" fill="#000"/>
<line x1="1131.0" y1="706.0" x2="1160.0" y2="706.0" stroke-width="2.2" stroke-linecap="butt"/>
<line x1="1131.0" y1="710.2" x2="1160.0" y2="710.2" stroke-width="2.2" stroke-linecap="butt"/>
<path d="M1107,708.5 L1107,728 Q1107,732 1111,732" stroke-width="2.6" fill="none" />
<line x1="1131.0" y1="728.8" x2="1160.0" y2="728.8" stroke-width="2.6" stroke-linecap="butt"/>
<line x1="1131.0" y1="732.3" x2="1160.0" y2="732.3" stroke-width="2.2" stroke-linecap="butt"/>
<line x1="1113.0" y1="662.0" x2="1113.0" y2="1162.0" stroke-width="3.6" stroke-linecap="butt"/>
<line x1="1129.5" y1="662.0" x2="1129.5" y2="875.8" stroke-width="3" stroke-linecap="butt"/>
<rect x="1109.8" y="875.8" width="21.5" height="25.1" rx="0" stroke-width="2.8" fill="none"/>
<line x1="1131.0" y1="787.5" x2="1160.0" y2="787.5" stroke-width="3.4" stroke-linecap="butt"/>
<line x1="1131.0" y1="868.0" x2="1160.0" y2="868.0" stroke-width="2.6" stroke-linecap="butt"/>
<line x1="1131.0" y1="872.5" x2="1160.0" y2="872.5" stroke-width="3" stroke-linecap="butt"/>
<line x1="1131.0" y1="910.3" x2="1160.0" y2="910.3" stroke-width="2.4" stroke-linecap="butt"/>
<line x1="1131.0" y1="927.0" x2="1160.0" y2="927.0" stroke-width="3.4" stroke-linecap="butt"/>
<line x1="1130.5" y1="735.0" x2="1130.5" y2="875.8" stroke-width="2.4" stroke-linecap="butt"/>
<path d="M1123,901 Q1128,950 1160,968" stroke-width="2.6" fill="none" />
<path d="M1129,901 Q1134,940 1160,955" stroke-width="2.6" fill="none" />
<path d="M1113.3,1200 Q1114,1160 1122,1145 " stroke-width="0" fill="none" />
<path d="M1160,1008 A80,80 0 0 0 1082,1083.6 L1082.9,1195.3" stroke-width="2.6" fill="none" />
<line x1="1081.0" y1="1087.6" x2="1160.0" y2="1087.6" stroke-width="2.6" stroke-linecap="butt"/>
<rect x="1080.0" y="1095.6" width="31.5" height="12.0" rx="1.5" stroke="none" fill="#000"/>
<rect x="1143.5" y="1095.6" width="18.5" height="12.0" rx="1" stroke="none" fill="#000"/>
<line x1="1113.6" y1="961.0" x2="1128.0" y2="961.0" stroke-width="2.6" stroke-linecap="butt"/>
<path d="M1125.7,960 Q1130,1030 1149,1151.5 Q1150,1160 1160,1165" stroke-width="2.6" fill="none" />
<path d="M1113.8,1160 Q1115,1190 1150,1196" stroke-width="2.6" fill="none" />
<line x1="1121.0" y1="1154.0" x2="1150.0" y2="1154.0" stroke-width="2.4" stroke-linecap="butt"/>
<line x1="1121.0" y1="1163.0" x2="1150.0" y2="1163.0" stroke-width="2.4" stroke-linecap="butt"/>
<path d="M1147,1150 L1158,1148 L1160,1170 L1149,1172 Z" stroke-width="2.6" fill="none" />
<line x1="1151.0" y1="1156.0" x2="1159.0" y2="1155.0" stroke-width="2" stroke-linecap="butt"/>
<line x1="1148.8" y1="1172.0" x2="1148.8" y2="1196.0" stroke-width="2.4" stroke-linecap="butt"/>
<rect x="1150.7" y="978.0" width="9.0" height="26.0" rx="3" stroke-width="2.6" fill="none"/>
<rect x="1074.9" y="1196.3" width="86.7" height="6.0" rx="2" stroke="none" fill="#000"/>
<line x1="1072.0" y1="1207.3" x2="1164.0" y2="1207.3" stroke-width="3" stroke-linecap="butt"/>
<line x1="1074.9" y1="1207.0" x2="1074.9" y2="1256.0" stroke-width="3" stroke-linecap="butt"/>
<line x1="1166.6" y1="1207.0" x2="1166.6" y2="1256.0" stroke-width="3" stroke-linecap="butt"/>
<line x1="1073.0" y1="1253.5" x2="1168.0" y2="1253.5" stroke-width="3" stroke-linecap="butt"/>
<rect x="1198.7" y="1000.0" width="17.0" height="95.6" rx="0" stroke-width="2.6" fill="none"/>
<rect x="1211.5" y="1004.0" width="7.0" height="88.0" rx="1.5" stroke="none" fill="#000"/>
<circle cx="1203.5" cy="1012.8" r="2.6" stroke-width="2.4" fill="#000"/>
<circle cx="1203.5" cy="1080.6" r="2.6" stroke-width="2.4" fill="#000"/>
<rect x="1197.0" y="322.2" width="77.3" height="115.8" rx="0" stroke="none" fill="#000"/>
<g stroke="#bbb">
<line x1="1205.8" y1="328.0" x2="1205.8" y2="377.0" stroke-width="0.8" stroke-linecap="butt"/>
<line x1="1205.8" y1="381.5" x2="1205.8" y2="433.0" stroke-width="0.8" stroke-linecap="butt"/>
<line x1="1209.8" y1="328.0" x2="1209.8" y2="377.0" stroke-width="0.8" stroke-linecap="butt"/>
<line x1="1209.8" y1="381.5" x2="1209.8" y2="433.0" stroke-width="0.8" stroke-linecap="butt"/>
<line x1="1213.9" y1="328.0" x2="1213.9" y2="377.0" stroke-width="0.8" stroke-linecap="butt"/>
<line x1="1213.9" y1="381.5" x2="1213.9" y2="433.0" stroke-width="0.8" stroke-linecap="butt"/>
<line x1="1218.0" y1="328.0" x2="1218.0" y2="377.0" stroke-width="0.8" stroke-linecap="butt"/>
<line x1="1218.0" y1="381.5" x2="1218.0" y2="433.0" stroke-width="0.8" stroke-linecap="butt"/>
<line x1="1222.0" y1="328.0" x2="1222.0" y2="377.0" stroke-width="0.8" stroke-linecap="butt"/>
<line x1="1222.0" y1="381.5" x2="1222.0" y2="433.0" stroke-width="0.8" stroke-linecap="butt"/>
<line x1="1226.0" y1="328.0" x2="1226.0" y2="377.0" stroke-width="0.8" stroke-linecap="butt"/>
<line x1="1226.0" y1="381.5" x2="1226.0" y2="433.0" stroke-width="0.8" stroke-linecap="butt"/>
<line x1="1230.1" y1="328.0" x2="1230.1" y2="377.0" stroke-width="0.8" stroke-linecap="butt"/>
<line x1="1230.1" y1="381.5" x2="1230.1" y2="433.0" stroke-width="0.8" stroke-linecap="butt"/>
<line x1="1234.1" y1="328.0" x2="1234.1" y2="377.0" stroke-width="0.8" stroke-linecap="butt"/>
<line x1="1234.1" y1="381.5" x2="1234.1" y2="433.0" stroke-width="0.8" stroke-linecap="butt"/>
<line x1="1238.2" y1="328.0" x2="1238.2" y2="377.0" stroke-width="0.8" stroke-linecap="butt"/>
<line x1="1238.2" y1="381.5" x2="1238.2" y2="433.0" stroke-width="0.8" stroke-linecap="butt"/>
<line x1="1242.2" y1="328.0" x2="1242.2" y2="377.0" stroke-width="0.8" stroke-linecap="butt"/>
<line x1="1242.2" y1="381.5" x2="1242.2" y2="433.0" stroke-width="0.8" stroke-linecap="butt"/>
<line x1="1246.3" y1="328.0" x2="1246.3" y2="377.0" stroke-width="0.8" stroke-linecap="butt"/>
<line x1="1246.3" y1="381.5" x2="1246.3" y2="433.0" stroke-width="0.8" stroke-linecap="butt"/>
<line x1="1250.3" y1="328.0" x2="1250.3" y2="377.0" stroke-width="0.8" stroke-linecap="butt"/>
<line x1="1250.3" y1="381.5" x2="1250.3" y2="433.0" stroke-width="0.8" stroke-linecap="butt"/>
<line x1="1254.4" y1="328.0" x2="1254.4" y2="377.0" stroke-width="0.8" stroke-linecap="butt"/>
<line x1="1254.4" y1="381.5" x2="1254.4" y2="433.0" stroke-width="0.8" stroke-linecap="butt"/>
<line x1="1258.5" y1="328.0" x2="1258.5" y2="377.0" stroke-width="0.8" stroke-linecap="butt"/>
<line x1="1258.5" y1="381.5" x2="1258.5" y2="433.0" stroke-width="0.8" stroke-linecap="butt"/>
</g>
<rect x="1198" y="326" width="5" height="108" fill="#fff" stroke="none"/>
<rect x="1269.5" y="318.8" width="5.0" height="124.3" rx="2" stroke="none" fill="#000"/>
<g fill="#fff" stroke="none">
<rect x="1265" y="336" width="4" height="4"/>
<rect x="1265" y="356" width="4" height="4"/>
<rect x="1265" y="402" width="4" height="4"/>
<rect x="1265" y="422" width="4" height="4"/>
<rect x="1265.5" y="362" width="3" height="36"/>
</g>
<path d="M450.3,218.3 L467.3,218.3 L458.7,231 Z" stroke-width="2.8" fill="none" />
<line x1="458.7" y1="231.0" x2="458.7" y2="309.0" stroke-width="2.4" stroke-linecap="butt"/>
<rect x="447.8" y="281.5" width="21.3" height="15.5" rx="2" stroke="none" fill="#000"/>
<rect x="440.0" y="295.5" width="32.0" height="4.0" rx="1" stroke="none" fill="#000"/>
<path d="M463.5,195.8 Q457,195 457.5,201 Q458,204.5 461,207 Q463.5,210.5 458,214" stroke-width="4.6" fill="none" stroke-linecap="round"/>
</svg></body></html>
